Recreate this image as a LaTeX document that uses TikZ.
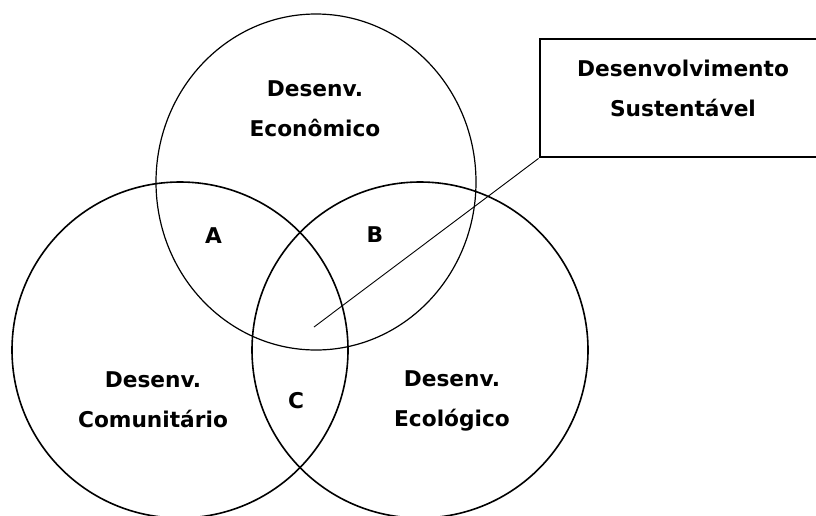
\documentclass[tikz,border=0pt]{standalone}
\usepackage{fontspec}
\setmainfont{DejaVu Sans}
\usetikzlibrary{positioning}

\begin{document}
\begin{tikzpicture}[x=1pt,y=-1pt,
  rotulo/.style={font=\bfseries\fontsize{21.7pt}{40pt}\selectfont,align=center,inner sep=0pt},
  letra/.style={font=\bfseries\fontsize{21.7pt}{26pt}\selectfont,inner sep=0pt},
  circulo/.style={draw=black,line width=1.6pt},
  caixa/.style={rectangle,draw=black,line width=2.8pt,minimum width=278pt,minimum height=118pt,inner sep=0pt}]
\useasboundingbox (0,0) rectangle (816,515);
% os tres circulos
\draw[circulo,line width=1.2pt] (316,182) ellipse [x radius=160pt, y radius=168pt];
\draw[circulo] (180,350) circle [radius=168pt];
\draw[circulo] (420,350) circle [radius=168pt];

\node[rotulo] (eco) at (315,109) {Desenv.\\Econômico};
\node[rotulo] (com) at (153,400) {Desenv.\\Comunitário};
\node[rotulo] (ecl) at (452,401) {Desenv.\\Ecológico};

\node[letra] (a) at (213.5,235.5) {A};
\node[letra] (b) at (375,234.5) {B};
\node[letra] (c) at (296,401) {C};

% caixa e linha de chamada
\node[caixa] (ds) at (679,98) {};
\node[rotulo] (dstexto) at (683,88) {Desenvolvimento\\Sustentável};
\coordinate (ponta) at (314,327);
\draw[line width=0.9pt] (ds.south west) -- (ponta);
\end{tikzpicture}
\end{document}
